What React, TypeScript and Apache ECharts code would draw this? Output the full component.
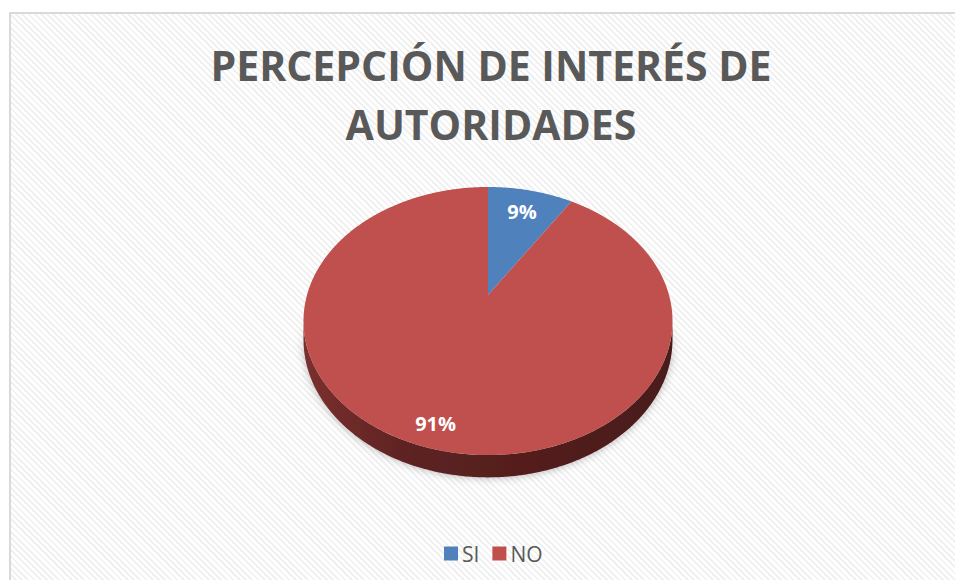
import React, { useEffect, useRef } from "react";
import * as echarts from "echarts";

const TITLE_LINES = ["PERCEPCIÓN DE INTERÉS DE", "AUTORIDADES"];
const CATEGORIES = ["SI", "NO"];
const VALUES = [9, 91];
const COLORS = ["#4f81bd", "#c0504d"];

// layout of the tilted (perspective) pie
const CX = 488;
const CY = 295;
const RX = 181;
const RY = 129;
const K = 0.194;
const DEPTH = 18;
const LABEL_RADIUS = [0.77, 0.87];

function project(theta: number, f: number, drop = 0): number[] {
  const r = (theta * Math.PI) / 180;
  const u = Math.sin(r) * f;
  const v = Math.cos(r) * f;
  const w = 1 + K * v;
  return [CX + (RX * u) / w, CY - (RY * v) / w + drop / w];
}

export default function App() {
  const ref = useRef<HTMLDivElement>(null);
  useEffect(() => {
    if (!ref.current) return;
    const chart = echarts.init(ref.current, null, { renderer: "svg" });
    const total = VALUES.reduce((a, b) => a + b, 0);
    const th1 = (Math.acos(-K) * 180) / Math.PI;
    const th2 = 360 - th1;

    const renderItem = (params: any, api: any) => {
      const i = params.seriesIndex;
      const val = api.value(0);
      let before = 0;
      for (let j = 0; j < i; j++) before += VALUES[j];
      const start = (before / total) * 360;
      const end = start + (val / total) * 360;
      const children: any[] = [];
      const a = Math.max(start, th1);
      const b = Math.min(end, th2);
      if (a < b) {
        const topPts: number[][] = [];
        const botPts: number[][] = [];
        for (let t = a; t <= b + 1e-6; t += 0.5) {
          topPts.push(project(t, 1));
          botPts.push(project(t, 1, DEPTH));
        }
        children.push({
          type: "polygon",
          shape: { points: topPts.concat(botPts.reverse()) },
          style: {
            fill: new echarts.graphic.LinearGradient(0, 0, 1, 0, [
              { offset: 0, color: "#7a302e" },
              { offset: 0.3, color: "#5c2221" },
              { offset: 1, color: "#4a1a1a" },
            ]),
            shadowBlur: 8,
            shadowColor: "rgba(0,0,0,0.3)",
          },
        });
      }
      const pts: number[][] = [[CX, CY]];
      for (let t = start; t <= end + 1e-6; t += 0.5) pts.push(project(t, 1));
      pts.push(project(end, 1));
      children.push({
        type: "polygon",
        shape: { points: pts },
        style: { fill: COLORS[i] },
      });
      const mid = (start + end) / 2;
      const lp = project(mid, LABEL_RADIUS[i]);
      children.push({
        type: "text",
        x: lp[0],
        y: lp[1],
        style: {
          text: Math.round((val / total) * 100) + "%",
          fill: "#ffffff",
          font: "bold 20px 'Open Sans'",
          align: "center",
          verticalAlign: "middle",
        },
      });
      return { type: "group", children };
    };

    chart.setOption({
      animation: false,
      color: COLORS,
      title: {
        text: TITLE_LINES.join("\n"),
        left: 486,
        textAlign: "center",
        top: 30,
        textStyle: {
          fontFamily: "Open Sans",
          fontSize: 41,
          fontWeight: "bold",
          color: "#595959",
          lineHeight: 59,
        },
      },
      legend: {
        data: CATEGORIES,
        left: 444,
        top: 543,
        padding: 0,
        icon: "rect",
        itemWidth: 14,
        itemHeight: 14,
        itemGap: 13,
        textStyle: { fontFamily: "Open Sans", fontSize: 21, color: "#595959", padding: [0, 0, 0, -1] },
      },
      series: CATEGORIES.map((name, i) => ({
        type: "custom",
        name,
        coordinateSystem: "none",
        itemStyle: { color: COLORS[i] },
        data: [{ name, value: [VALUES[i]] }],
        renderItem,
      })),
    });
    return () => chart.dispose();
  }, []);

  return (
    <div style={{ position: "fixed", left: 0, top: 0, width: 955, height: 580, background: "#ffffff", overflow: "hidden" }}>
      <div
        style={{
          position: "absolute",
          left: 9,
          top: 12,
          width: 980,
          height: 600,
          border: "2px solid #d9d9d9",
          background:
            "repeating-linear-gradient(45deg, #f1f1f1 0px, #f1f1f1 2px, #ffffff 2px, #ffffff 4.4px)",
        }}
      />
      <div ref={ref} style={{ position: "absolute", left: 0, top: 0, width: 955, height: 580 }} />
    </div>
  );
}
